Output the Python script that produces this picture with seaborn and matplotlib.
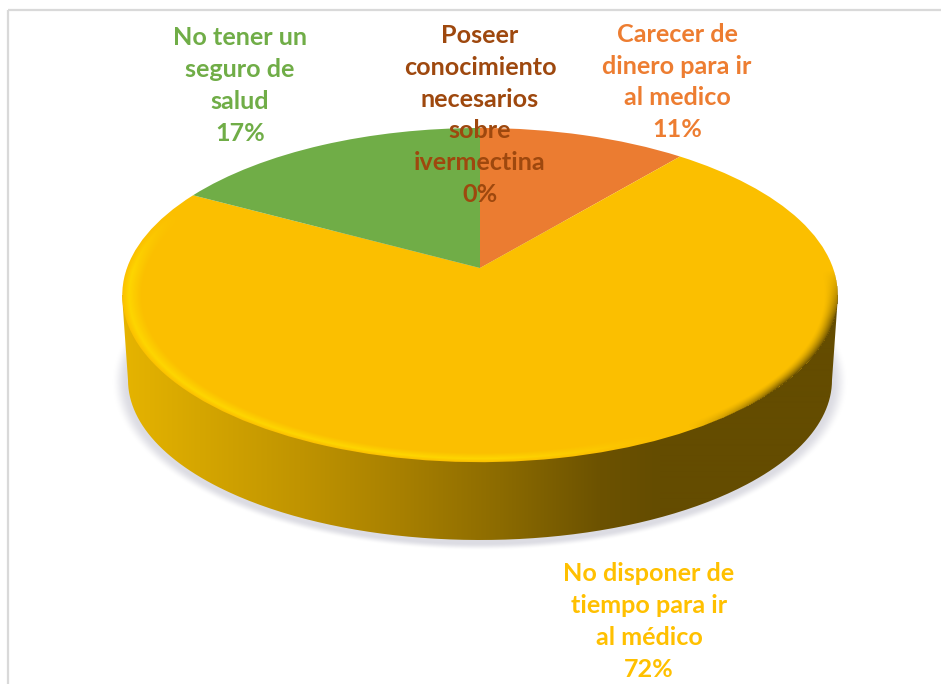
import numpy as np
import matplotlib
matplotlib.use("Agg")
import matplotlib.pyplot as plt
from matplotlib.path import Path
from matplotlib.patches import PathPatch, Rectangle
from matplotlib.transforms import Transform
from matplotlib.colors import to_rgb
import seaborn as sns

categories = ["Poseer\nconocimiento\nnecesarios\nsobre\nivermectina",
              "Carecer de\ndinero para ir\nal medico",
              "No disponer de\ntiempo para ir\nal médico",
              "No tener un\nseguro de\nsalud"]
values = [0, 11, 72, 17]
slice_colors = ["#A5A5A5", "#EB7C31", "#FBBF00", "#70AD47"]
label_colors = ["#9E480E", "#ED7D31", "#FFC000", "#70AD47"]

W, H = 941, 684
CX, APEX_Y = 480, 268
A, B, K = 353.0, 162.7, 0.162
RX, RY, EY = 358.0, 167.0, 295.0
BRX, BRY, BEY = 352.0, 160.0, 380.0

sns.set_theme(style="white")
plt.rcParams["font.family"] = ["Lato", "DejaVu Sans"]
palette = sns.color_palette(slice_colors)


class Tilt(Transform):
    """Perspective tilt of the unit pie onto the picture plane."""
    input_dims = output_dims = 2

    def transform_non_affine(self, v):
        v = np.asarray(v, float)
        w = 1 + K * v[:, 1]
        return np.column_stack([CX + A * v[:, 0] / w, APEX_Y - B * v[:, 1] / w])


fig = plt.figure(figsize=(W / 100, H / 100), dpi=100, facecolor="white")
ax = fig.add_axes([0, 0, 1, 1])
wedges, _ = ax.pie(values, colors=palette, startangle=90, counterclock=False,
                   radius=1, center=(0, 0), wedgeprops=dict(linewidth=0))
ax.set_aspect("auto")
ax.set_xlim(0, W)
ax.set_ylim(H, 0)
ax.axis("off")
tilt = Tilt()
for wd in wedges:
    wd.set_transform(tilt + ax.transData)
    wd.set_zorder(3)

xx, yy = np.meshgrid(np.arange(W) + .5, np.arange(H) + .5)

# soft shadow under the disc
d = np.sqrt(((xx - CX) / (BRX + 2)) ** 2 + ((yy - BEY - 2) / (BRY + 2)) ** 2)
sh = np.clip((1.04 - d) / 0.045, 0, 1)
sh = sh * sh * (3 - 2 * sh)
shadow = np.zeros((H, W, 4))
shadow[..., :3] = to_rgb("#DCDCE3")
shadow[..., 3] = sh
ax.imshow(shadow, extent=(0, W, H, 0), aspect="auto", zorder=1, interpolation="bilinear")

# side wall with horizontal gradient
stops_x = [122, 200, 300, 400, 500, 600, 660, 840]
stops_c = [to_rgb(c) for c in ["#E6B400", "#D5A600", "#C09400", "#A88000", "#8C6B00",
                               "#6C5200", "#644C00", "#644C00"]]
grad = np.stack([np.interp(np.arange(W) + .5, stops_x, [c[i] for c in stops_c]) for i in range(3)], axis=-1)
grad = np.repeat(grad[None, :, :], 2, axis=0)
im = ax.imshow(grad, extent=(0, W, H, 0), aspect="auto", zorder=2, interpolation="bilinear")
t = np.linspace(np.pi, 0, 240)
px = CX + BRX * np.cos(t)
py = BEY + BRY * np.sin(t)
verts = np.vstack([[CX - RX, EY], np.column_stack([px, py]), [CX + RX, EY], [CX - RX, EY]])
clip = PathPatch(Path(verts), transform=ax.transData, facecolor="none", edgecolor="none")
ax.add_patch(clip)
im.set_clip_path(clip)

# bevel along the rim of the top face
ex, ey = (xx - CX) / RX, (yy - EY) / RY
e = np.sqrt(ex ** 2 + ey ** 2) + 1e-9
ux, uy = ex / e, ey / e
s = -ux * 0.85 + uy * 0.5
band = np.clip((e - 0.945) / 0.035, 0, 1) * np.clip((1.0 - e) / 0.02, 0, 1)
hi = np.clip(s / 0.45, 0, 1) * band * np.clip((uy + 0.5) / 0.35, 0, 1)
edge = np.clip((e - 0.96) / 0.04, 0, 1) ** 1.6 * (e <= 1)
lo = np.clip((-s - 0.1) / 0.35, 0, 1) * edge * np.clip((uy + 0.15) / 0.3, 0, 1)
ov = np.zeros((H, W, 4))
hc, lc = np.array(to_rgb("#FFDD00")), np.array(to_rgb("#5E4700"))
ov[..., :3] = np.where((hi >= lo)[..., None], hc, lc)
ov[..., 3] = np.maximum(hi * 0.75, lo * 0.9)
ax.imshow(ov, extent=(0, W, H, 0), aspect="auto", zorder=4, interpolation="bilinear")
ax.set_xlim(0, W)
ax.set_ylim(H, 0)

# chart-area frame
ax.add_patch(Rectangle((8, 10), W + 20, H + 20, facecolor="none", edgecolor="#D9D9D9", linewidth=1.6, zorder=6))

# data labels
total = sum(values)
label_pos = [(480, 115), (677, 82), (649, 621.5), (240, 85.5)]
for cat, v, col, (lx, ly) in zip(categories, values, label_colors, label_pos):
    ax.text(lx, ly, f"{cat}\n{v / total:.0%}", color=col, ha="center", va="center",
            fontsize=18.1, fontweight="bold", linespacing=1.46, zorder=7)

fig.savefig("out.png", dpi=100)
